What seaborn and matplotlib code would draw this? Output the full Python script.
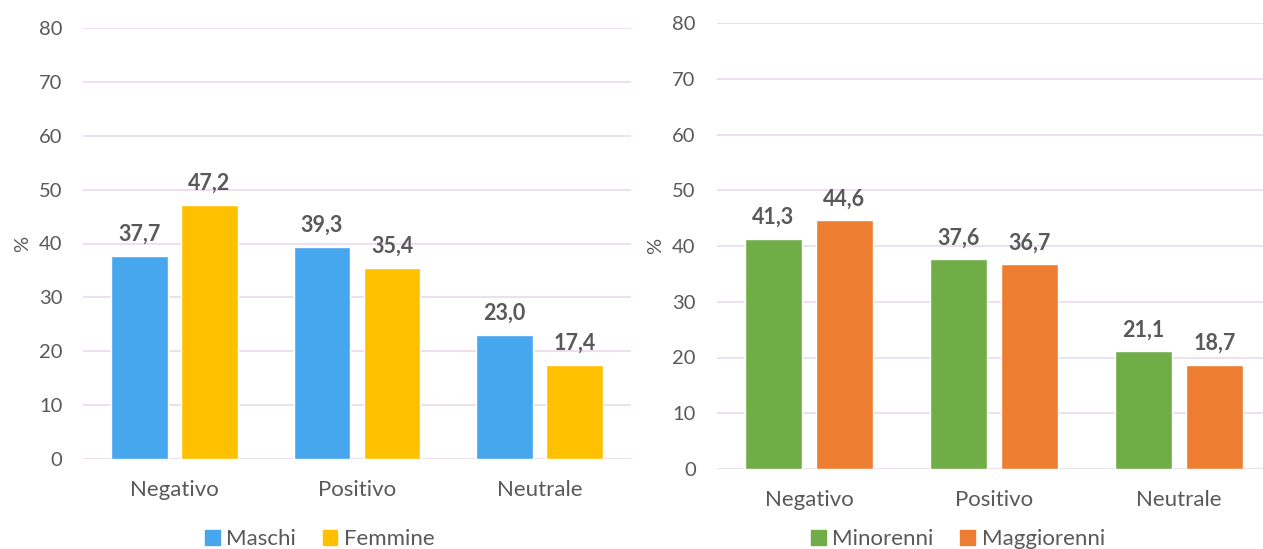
import pandas as pd
import matplotlib.pyplot as plt
import seaborn as sns
from matplotlib.patches import Patch

# Data
CATEGORIES = ['Negativo', 'Positivo', 'Neutrale']
MASCHI = [37.7, 39.3, 23.0]
FEMMINE = [47.2, 35.4, 17.4]
MINORENNI = [41.3, 37.6, 21.1]
MAGGIORENNI = [44.6, 36.7, 18.7]

TEXT_COLOR = '#595959'
GRID_COLOR = '#ecdcef'
FONT = ['Lato', 'DejaVu Sans']


def make_frame(names, series_a, series_b):
    rows = []
    for name, vals in zip(names, (series_a, series_b)):
        for cat, v in zip(CATEGORIES, vals):
            rows.append({'Categoria': cat, 'Gruppo': name, 'Valore': v})
    return pd.DataFrame(rows)


def draw_panel(fig, rect, xmax, names, series_a, series_b, colors, legend_x):
    ax = fig.add_axes(rect)
    df = make_frame(names, series_a, series_b)
    sns.barplot(data=df, x='Categoria', y='Valore', hue='Gruppo', order=CATEGORIES,
                hue_order=names, palette=colors, width=0.767, gap=0.186,
                saturation=1, legend=False, ax=ax)
    for cont in ax.containers:
        ax.bar_label(cont, labels=[f"{v:.1f}".replace('.', ',') for v in cont.datavalues],
                     padding=8, fontsize=15.5, fontweight='bold', color=TEXT_COLOR)
    ax.set_ylim(0, 80)
    ax.set_yticks(range(0, 81, 10))
    ax.set_xlim(-0.5, xmax)
    ax.grid(axis='y', color=GRID_COLOR, linewidth=1.3)
    ax.grid(axis='x', visible=False)
    ax.set_axisbelow(True)
    for s in ax.spines.values():
        s.set_visible(False)
    ax.tick_params(length=0, labelcolor=TEXT_COLOR, pad=15)
    ax.tick_params(axis='y', labelsize=14.5)
    ax.tick_params(axis='x', labelsize=16)
    ax.set_xlabel('')
    ax.set_ylabel('%', fontsize=14.5, color=TEXT_COLOR)
    ax.yaxis.set_label_coords(-0.096, 0.5)
    handles = [Patch(color=c) for c in colors]
    fig.legend(handles, names, loc='center', bbox_to_anchor=(legend_x, 1 - 539 / 549),
               ncol=2, frameon=False, fontsize=16, labelcolor=TEXT_COLOR,
               handlelength=0.65, handleheight=0.65, handletextpad=0.3, columnspacing=1.2)
    return ax


sns.set_theme(style='white')
plt.rcParams['font.family'] = FONT

fig = plt.figure(figsize=(12.63, 5.49), dpi=100)

draw_panel(fig, [83.25 / 1263, 90 / 549, 547.5 / 1263, 431 / 549], 2.5,
           ['Maschi', 'Femmine'], MASCHI, FEMMINE, ['#46a6ee', '#ffc000'], 320 / 1263)
draw_panel(fig, [716.5 / 1263, 80 / 549, 546.5 / 1263, 446 / 549], 2.454,
           ['Minorenni', 'Maggiorenni'], MINORENNI, MAGGIORENNI, ['#70ad47', '#ed7d31'], 958 / 1263)

fig.savefig('out.png', dpi=100)
